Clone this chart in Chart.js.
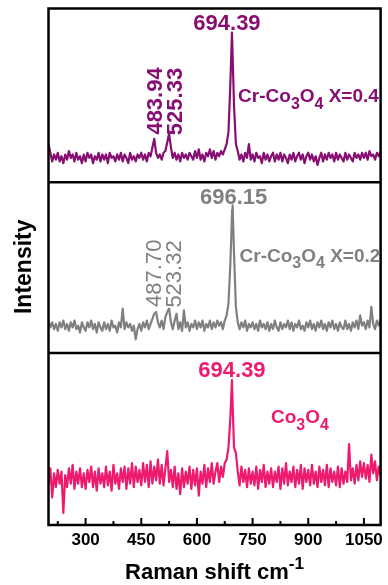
<!DOCTYPE html>
<html>
<head>
<meta charset="utf-8">
<script src="https://cdn.jsdelivr.net/npm/chart.js@4.4.1/dist/chart.umd.min.js"></script>
<style>
  html, body { margin: 0; padding: 0; background: #ffffff; }
  canvas { display: block; }
</style>
</head>
<body>
<canvas id="raman" width="388" height="585"></canvas>
<script>
// Raman shift grid (cm-1)
const shift = [
  200,205,210,215,220,225,230,235,240,245,
  250,255,260,265,270,275,280,285,290,295,
  300,305,310,315,320,325,330,335,340,345,
  350,355,360,365,370,375,380,385,390,395,
  400,405,410,415,420,425,430,435,440,445,
  450,455,460,465,470,475,480,485,490,495,
  500,505,510,515,520,525,530,535,540,545,
  550,555,560,565,570,575,580,585,590,595,
  600,605,610,615,620,625,630,635,640,645,
  650,655,660,665,670,675,680,685,690,695,
  700,705,710,715,720,725,730,735,740,745,
  750,755,760,765,770,775,780,785,790,795,
  800,805,810,815,820,825,830,835,840,845,
  850,855,860,865,870,875,880,885,890,895,
  900,905,910,915,920,925,930,935,940,945,
  950,955,960,965,970,975,980,985,990,995,
  1000,1005,1010,1015,1020,1025,1030,1035,1040,1045,
  1050,1055,1060,1065,1070,1075,1080,1085,1090,1095
];

// Intensity (a.u., panel-relative) on the shift grid
const intensityX04 = [
  22,17,12,16,13,17,12,15,11,16,
  13,18,14,16,12,17,13,15,11,16,
  12,17,14,16,11,15,13,17,12,16,
  13,16,11,17,14,15,12,16,13,17,
  12,16,14,11,17,13,15,12,16,14,
  17,13,16,12,17,15,20,25,17,14,
  16,13,17,18,23,28,20,14,17,13,
  16,12,17,14,16,13,17,15,13,18,
  14,19,13,16,12,17,15,19,14,18,
  13,17,15,18,16,19,22,29,56,82,
  44,22,18,13,16,12,17,14,22,13,
  16,12,17,14,15,11,17,13,16,12,
  15,17,12,16,13,17,12,16,14,11,
  16,13,17,12,15,17,13,16,11,15,
  17,13,16,12,15,10,14,17,12,16,
  13,17,14,16,12,17,13,16,14,12,
  17,13,16,14,12,17,14,16,13,17,
  14,17,13,18,15,16,13,17,15,18
];
const intensityX02 = [
  19,15,18,14,17,13,18,15,19,14,
  17,13,18,15,19,14,16,12,18,15,
  13,18,15,19,14,17,12,18,15,13,
  18,14,17,13,19,15,16,12,18,15,
  26,14,18,15,17,13,16,8,14,17,
  13,18,15,19,14,17,20,23,24,18,
  15,19,14,21,24,26,18,14,19,23,
  14,18,13,25,15,18,13,17,15,19,
  14,18,15,19,13,17,15,19,14,18,
  15,19,16,18,14,19,22,29,52,84,
  58,27,18,14,18,15,19,13,17,15,
  18,14,17,13,19,15,17,14,18,13,
  17,14,19,15,13,18,14,17,15,19,
  14,18,13,17,15,19,14,16,13,18,
  15,19,14,17,13,18,15,19,14,17,
  13,18,15,19,14,17,13,18,15,14,
  19,14,17,13,18,15,19,14,22,16,
  18,14,19,15,27,17,14,19,16,20
];
const intensityCo3O4 = [
  24,33,16,30,22,32,24,31,7,29,
  22,33,24,35,21,31,24,33,22,30,
  21,32,25,34,22,31,20,33,24,30,
  22,34,23,31,20,35,24,30,21,33,
  25,34,21,33,24,36,22,34,25,32,
  23,36,25,35,22,37,24,34,26,38,
  24,35,23,33,43,25,32,22,34,21,
  30,18,33,22,31,24,34,21,32,23,
  33,17,31,24,35,22,33,25,36,24,
  31,36,25,34,28,36,38,45,62,78,
  45,42,31,23,34,25,32,22,33,24,
  31,23,34,21,32,25,35,22,31,24,
  33,22,31,25,34,21,33,24,36,23,
  31,25,34,22,32,24,35,21,33,25,
  32,23,35,24,31,22,34,25,32,23,
  35,22,33,25,31,23,34,22,33,24,
  31,25,47,26,33,24,35,26,37,28,
  36,27,35,25,41,30,37,26,34,29
];

// Main A1g peak of each sample: position (cm-1) and top intensity
const peakShiftX04 = 694.39, peakTopX04 = 86.2;
const peakShiftX02 = 696.15, peakTopX02 = 86.5;
const peakShiftCo3O4 = 694.39, peakTopCo3O4 = 84.3;

// Weaker bands marked on the doped samples
const minorPeaksX04 = [483.94, 525.33];
const minorPeaksX02 = [487.70, 523.32];

// Axis ticks
const xTicks = [300, 450, 600, 750, 900, 1050];
const xMinorTicks = [225, 375, 525, 675, 825, 975];

const FONT = 'Arial, "Liberation Sans", Helvetica, sans-serif';
const PURPLE = '#870f74';
const GREY = '#808080';
const PINK = '#ee1a6e';

function spectrum(values, peakX, peakY) {
  const pts = shift.map((x, i) => ({ x: x, y: values[i] }));
  pts.push({ x: peakX, y: peakY });
  pts.sort((a, b) => a.x - b.x);
  return pts;
}

function panelAxis(weight) {
  return {
    type: 'linear', position: 'left', stack: 'spectra', stackWeight: weight,
    min: 0, max: 100,
    grid: { display: false, drawTicks: false },
    border: { display: false },
    ticks: { display: false },
    afterFit: s => { s.width = 0; }
  };
}

// Text made of runs: [[text, 0 | 'sub' | 'sup'], ...], vertically centred on yMid
function drawRuns(ctx, runs, x, yMid, size, weight, color, align) {
  const runSize = s => s === 'sub' ? size * 0.84 : s === 'sup' ? size * 0.78 : size;
  const widths = runs.map(([t, s]) => {
    ctx.font = `${weight} ${runSize(s)}px ${FONT}`;
    return ctx.measureText(t).width;
  });
  const total = widths.reduce((a, b) => a + b, 0);
  let cx = align === 'center' ? x - total / 2 : x;
  const base = yMid + size * 0.358;
  ctx.fillStyle = color;
  ctx.textAlign = 'left';
  ctx.textBaseline = 'alphabetic';
  runs.forEach(([t, s], i) => {
    ctx.font = `${weight} ${runSize(s)}px ${FONT}`;
    let b = base;
    if (s === 'sub') b += size * 0.35;
    if (s === 'sup') b -= size * 0.45;
    ctx.fillText(t, cx, b);
    cx += widths[i];
  });
}

function drawLabel(chart, axisId, xVal, yVal, runs, o) {
  const { ctx, scales } = chart;
  const px = scales.x.getPixelForValue(xVal) + (o.dx || 0);
  const py = scales[axisId].getPixelForValue(yVal);
  ctx.save();
  if (o.rotate) {
    ctx.translate(px, py);
    ctx.rotate(-Math.PI / 2);
    drawRuns(ctx, runs, 0, 0, o.size, o.weight, o.color, 'center');
  } else {
    drawRuns(ctx, runs, px, py, o.size, o.weight, o.color, o.align || 'center');
  }
  ctx.restore();
}

const decorations = {
  id: 'decorations',
  afterDraw(chart) {
    const { ctx, chartArea: a, scales } = chart;
    const xs = scales.x;

    // Panel frame and dividers
    ctx.save();
    ctx.strokeStyle = '#000';
    ctx.lineWidth = 2.5;
    ctx.strokeRect(a.left, a.top, a.right - a.left, a.bottom - a.top);
    [scales.yTop.bottom, scales.yMid.bottom].forEach(y => {
      ctx.beginPath(); ctx.moveTo(a.left, y); ctx.lineTo(a.right, y); ctx.stroke();
    });

    // Inward tick marks on the bottom axis
    ctx.lineWidth = 2;
    xTicks.forEach(v => {
      const p = xs.getPixelForValue(v);
      ctx.beginPath(); ctx.moveTo(p, a.bottom); ctx.lineTo(p, a.bottom - 7); ctx.stroke();
    });
    xMinorTicks.forEach(v => {
      const p = xs.getPixelForValue(v);
      ctx.beginPath(); ctx.moveTo(p, a.bottom); ctx.lineTo(p, a.bottom - 4); ctx.stroke();
    });
    ctx.restore();

    // Peak positions
    drawLabel(chart, 'yTop', peakShiftX04, 92, [[peakShiftX04.toFixed(2), 0]],
      { size: 22, weight: 'bold', color: PURPLE, dx: -5 });
    drawLabel(chart, 'yTop', minorPeaksX04[0], 46.8, [[minorPeaksX04[0].toFixed(2), 0]],
      { size: 22, weight: 'bold', color: PURPLE, rotate: true, dx: 0 });
    drawLabel(chart, 'yTop', minorPeaksX04[1], 46.5, [[minorPeaksX04[1].toFixed(2), 0]],
      { size: 22, weight: 'bold', color: PURPLE, rotate: true, dx: 4.5 });

    drawLabel(chart, 'yMid', peakShiftX02, 91.7, [[peakShiftX02.toFixed(2), 0]],
      { size: 22, weight: 'bold', color: GREY, dx: 1 });
    drawLabel(chart, 'yMid', minorPeaksX02[0], 46.7, [[minorPeaksX02[0].toFixed(2), 0]],
      { size: 22, weight: 'normal', color: GREY, rotate: true, dx: -2.4 });
    drawLabel(chart, 'yMid', minorPeaksX02[1], 46.3, [[minorPeaksX02[1].toFixed(2), 0]],
      { size: 22, weight: 'normal', color: GREY, rotate: true, dx: 5 });

    drawLabel(chart, 'yBot', peakShiftCo3O4, 90.7, [[peakShiftCo3O4.toFixed(2), 0]],
      { size: 22, weight: 'bold', color: PINK, dx: 0 });

    // Sample names
    drawLabel(chart, 'yTop', 711, 50.2,
      [['Cr-Co', 0], ['3', 'sub'], ['O', 0], ['4', 'sub'], [' X=0.4', 0]],
      { size: 19, weight: 'bold', color: PURPLE, align: 'left' });
    drawLabel(chart, 'yMid', 715, 57.4,
      [['Cr-Co', 0], ['3', 'sub'], ['O', 0], ['4', 'sub'], [' X=0.2', 0]],
      { size: 19, weight: 'bold', color: GREY, align: 'left' });
    drawLabel(chart, 'yBot', 799.5, 63,
      [['Co', 0], ['3', 'sub'], ['O', 0], ['4', 'sub']],
      { size: 19, weight: 'bold', color: PINK, align: 'left' });

    // Axis titles
    ctx.save();
    drawRuns(ctx, [['Raman shift cm', 0], ['-1', 'sup']], (a.left + a.right) / 2, 571.5,
      22, 'bold', '#000', 'center');
    ctx.translate(23, (a.top + a.bottom) / 2);
    ctx.rotate(-Math.PI / 2);
    drawRuns(ctx, [['Intensity', 0]], 0, 0, 23, 'bold', '#000', 'center');
    ctx.restore();
  }
};

new Chart(document.getElementById('raman'), {
  type: 'line',
  data: {
    datasets: [
      { label: 'Co3O4', data: spectrum(intensityCo3O4, peakShiftCo3O4, peakTopCo3O4),
        yAxisID: 'yBot', borderColor: PINK, borderWidth: 2.2 },
      { label: 'Cr-Co3O4 X=0.2', data: spectrum(intensityX02, peakShiftX02, peakTopX02),
        yAxisID: 'yMid', borderColor: GREY, borderWidth: 2.2 },
      { label: 'Cr-Co3O4 X=0.4', data: spectrum(intensityX04, peakShiftX04, peakTopX04),
        yAxisID: 'yTop', borderColor: PURPLE, borderWidth: 2.2 }
    ]
  },
  options: {
    responsive: false,
    animation: false,
    events: [],
    layout: { padding: { left: 48.5, right: 3.5, top: 8.5, bottom: 0 } },
    elements: { point: { radius: 0 }, line: { tension: 0, borderJoinStyle: 'round' } },
    plugins: { legend: { display: false }, tooltip: { enabled: false } },
    scales: {
      x: {
        type: 'linear', min: 200, max: 1095,
        grid: { display: false, drawTicks: false },
        border: { display: false },
        afterBuildTicks: s => { s.ticks = xTicks.map(v => ({ value: v })); },
        afterFit: s => { s.height = 60; },
        ticks: {
          padding: 5, color: '#000',
          font: { family: FONT, size: 17, weight: 'bold' },
          callback: v => String(v)
        }
      },
      yBot: panelAxis(172),
      yMid: panelAxis(170.7),
      yTop: panelAxis(173.8)
    }
  },
  plugins: [decorations]
});
</script>
</body>
</html>
